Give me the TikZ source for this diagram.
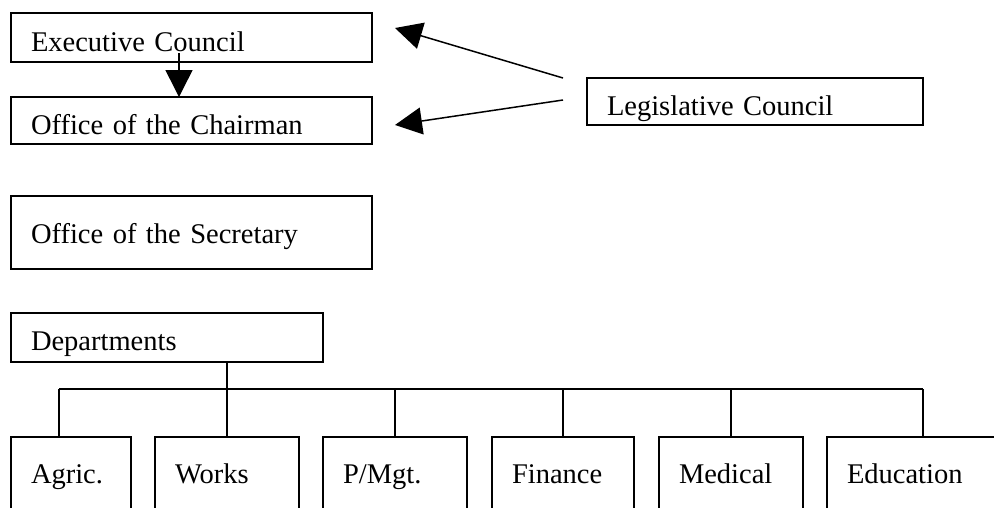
\documentclass[tikz,border=0pt]{standalone}
\usepackage{fontspec}
\setmainfont{Liberation Serif}
\usetikzlibrary{arrows.meta}

\tikzset{
	unit/.style={draw, line width=1.5pt, anchor=north west, outer sep=0pt,
		inner xsep=20pt, inner ysep=0pt, align=left, text depth=0pt,
		font=\fontsize{28.5}{30}\selectfont},
	dept/.style={unit, minimum height=100pt, text height=20pt, text depth=28pt},
	link/.style={line width=1.5pt},
	arr/.style={line width=1.5pt, -{Triangle[length=27pt, width=27pt]}}
}

\begin{document}
\begin{tikzpicture}[x=1pt, y=-1pt]
		\useasboundingbox (0, 0) rectangle (994, 507);
		\clip (0, 0) rectangle (994, 507);

		\coordinate (e1) at (179, 53);
		\coordinate (l1) at (563, 78);
		\coordinate (l2) at (563, 100);
		\coordinate (t1) at (395, 28);
		\coordinate (t2) at (395, 125);
		\coordinate (busL) at (59, 389);
		\coordinate (busR) at (923, 389);

		% uffici
		\node[unit, minimum width=361pt, minimum height=49pt, text width=321pt, text height=27pt] (exec) at (11, 13) {Executive Council};
		\node[unit, minimum width=361pt, minimum height=47pt, text width=321pt, text height=27pt] (chair) at (11, 97) {Office of the Chairman};
		\node[unit, minimum width=361pt, minimum height=73pt, text width=321pt, text height=21pt] (secr) at (11, 196) {Office of the Secretary};
		\node[unit, minimum width=312pt, minimum height=49pt, text width=272pt, text height=25pt] (depts) at (11, 313) {Departments};
		\node[unit, minimum width=336pt, minimum height=47pt, text width=296pt, text height=27pt] (legis) at (587, 78) {Legislative Council};

		% dipartimenti
		\node[dept, minimum width=120pt, text width=80pt] (agric) at (11, 437) {Agric.};
		\node[dept, minimum width=144pt, text width=104pt] (works) at (155, 437) {Works};
		\node[dept, minimum width=144pt, text width=104pt] (pmgt) at (323, 437) {P/Mgt.};
		\node[dept, minimum width=142pt, text width=102pt] (finance) at (492, 437) {Finance};
		\node[dept, minimum width=144pt, text width=104pt] (medical) at (659, 437) {Medical};
		\node[dept, minimum width=180pt, text width=140pt] (edu) at (827, 437) {Education};

		% frecce
		\draw[arr] (e1) -- (e1 |- chair.north);
		\draw[arr] (l1) -- (t1);
		\draw[arr] (l2) -- (t2);

		% albero
		\draw[link] (busL) -- (busR);
		\draw[link] (depts.south -| works.north) -- (works.north);
		\draw[link] (busL) -- (busL |- agric.north);
		\foreach \d in {pmgt, finance, medical}
			\draw[link] (\d.north |- busL) -- (\d.north);
		\draw[link] (busR) -- (busR |- edu.north);
	\end{tikzpicture}
\end{document}
